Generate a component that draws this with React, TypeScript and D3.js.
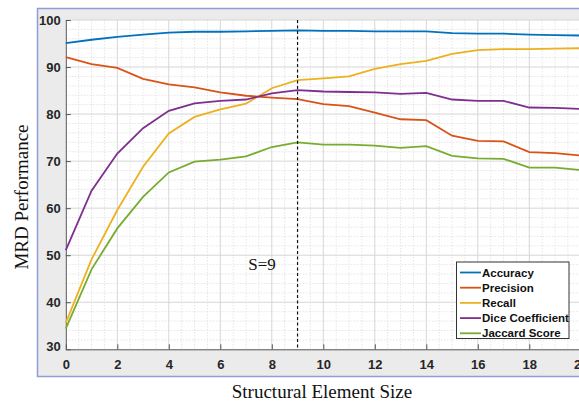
import * as d3 from 'd3';
import { useRef, useEffect } from 'react';

// structural element sizes
const sizes = d3.range(0, 21);

const accuracy = [95.1, 95.8, 96.4, 96.9, 97.3, 97.5, 97.5, 97.6, 97.7, 97.8, 97.7, 97.7, 97.6, 97.6, 97.6, 97.2, 97.1, 97.1, 96.9, 96.8, 96.7];
const precision = [92.1, 90.6, 89.8, 87.5, 86.3, 85.7, 84.6, 83.9, 83.5, 83.2, 82.1, 81.7, 80.3, 78.9, 78.7, 75.4, 74.3, 74.2, 71.9, 71.7, 71.2];
const recall = [35.6, 49.1, 59.6, 68.8, 75.9, 79.4, 81.0, 82.2, 85.5, 87.2, 87.6, 88.0, 89.6, 90.6, 91.3, 92.8, 93.6, 93.8, 93.8, 93.9, 94.0];
const dice = [51.1, 63.7, 71.6, 77.0, 80.7, 82.3, 82.8, 83.1, 84.4, 85.1, 84.8, 84.7, 84.6, 84.3, 84.5, 83.1, 82.8, 82.8, 81.4, 81.3, 81.1];
const jaccard = [34.4, 47.0, 55.7, 62.4, 67.6, 69.9, 70.3, 71.0, 73.0, 74.0, 73.5, 73.5, 73.3, 72.8, 73.2, 71.1, 70.6, 70.5, 68.6, 68.6, 68.1];

const seriesNames = ['Accuracy', 'Precision', 'Recall', 'Dice Coefficient', 'Jaccard Score'];
const seriesValues = [accuracy, precision, recall, dice, jaccard];
const colors = ['#0072BD', '#D95319', '#EDB120', '#7E2F8E', '#77AC30'];

const xTicks = [0, 2, 4, 6, 8, 10, 12, 14, 16, 18, 20];
const yTicks = [30, 40, 50, 60, 70, 80, 90, 100];
const chosenSize = 9;

function App() {
  const svgRef = useRef(null);
  const width = 579;
  const height = 402;
  const margin = { top: 20, left: 65.8, bottom: 349.3, right: 580.8 };

  useEffect(() => {
    const svg = d3.select(svgRef.current);
    svg.selectAll('*').remove();

    const xScale = d3.scaleLinear().domain([0, 20]).range([margin.left, margin.right]);
    const yScale = d3.scaleLinear().domain([30, 100]).range([margin.bottom, margin.top]);

    // outer figure frame
    svg.append('rect')
      .attr('x', 37.5).attr('y', 8.5)
      .attr('width', 600).attr('height', 368)
      .attr('fill', '#ebebeb')
      .attr('stroke', '#8e9cd8')
      .attr('stroke-width', 1.5);

    // plot area
    svg.append('rect')
      .attr('x', margin.left).attr('y', margin.top)
      .attr('width', margin.right - margin.left)
      .attr('height', margin.bottom - margin.top)
      .attr('fill', 'white');

    // minor grid
    const grid = svg.append('g');
    grid.selectAll('.minorX')
      .data(d3.range(0.5, 20, 0.5).filter((d) => d % 2 !== 0))
      .join('line')
      .attr('x1', (d) => xScale(d)).attr('x2', (d) => xScale(d))
      .attr('y1', margin.top).attr('y2', margin.bottom)
      .attr('stroke', '#dedede').attr('stroke-width', 0.8)
      .attr('stroke-dasharray', '1.5,1.5');
    grid.selectAll('.minorY')
      .data(d3.range(32, 100, 2).filter((d) => d % 10 !== 0))
      .join('line')
      .attr('x1', margin.left).attr('x2', margin.right)
      .attr('y1', (d) => yScale(d)).attr('y2', (d) => yScale(d))
      .attr('stroke', '#dedede').attr('stroke-width', 0.8)
      .attr('stroke-dasharray', '1.5,1.5');

    // major grid
    grid.selectAll('.majorX')
      .data(xTicks.slice(1))
      .join('line')
      .attr('x1', (d) => xScale(d)).attr('x2', (d) => xScale(d))
      .attr('y1', margin.top).attr('y2', margin.bottom)
      .attr('stroke', '#d6d6d6').attr('stroke-width', 1);
    grid.selectAll('.majorY')
      .data(yTicks.slice(1))
      .join('line')
      .attr('x1', margin.left).attr('x2', margin.right)
      .attr('y1', (d) => yScale(d)).attr('y2', (d) => yScale(d))
      .attr('stroke', '#d6d6d6').attr('stroke-width', 1);

    // axes (ticks inside)
    const xAxis = d3.axisBottom(xScale).tickValues(xTicks).tickSize(-5).tickPadding(8).tickSizeOuter(0);
    const yAxis = d3.axisLeft(yScale).tickValues(yTicks).tickSize(-5).tickPadding(5).tickSizeOuter(0);

    const gx = svg.append('g')
      .attr('transform', `translate(0, ${margin.bottom})`)
      .call(xAxis);
    const gy = svg.append('g')
      .attr('transform', `translate(${margin.left}, 0)`)
      .call(yAxis);
    [gx, gy].forEach((g) => {
      g.select('.domain').attr('stroke', '#555').attr('stroke-width', 1);
      g.selectAll('.tick line').attr('stroke', '#555');
      g.selectAll('.tick text')
        .attr('fill', '#262626')
        .attr('font-family', 'Liberation Sans, Arial, sans-serif')
        .attr('font-weight', 'bold')
        .attr('font-size', '13px');
    });
    gx.selectAll('.tick text').attr('dy', '0.9em');
    gy.selectAll('.tick text').attr('dy', '0.35em');
    gy.select('.tick text').attr('dy', '0.1em');

    // series lines
    const line = d3.line()
      .x((d, i) => xScale(sizes[i]))
      .y((d) => yScale(d));
    svg.append('g')
      .selectAll('path')
      .data(seriesValues)
      .join('path')
      .attr('d', (d) => line(d))
      .attr('fill', 'none')
      .attr('stroke', (d, i) => colors[i])
      .attr('stroke-width', 1.8);

    // chosen size marker
    svg.append('line')
      .attr('x1', xScale(chosenSize)).attr('x2', xScale(chosenSize))
      .attr('y1', margin.top).attr('y2', margin.bottom)
      .attr('stroke', '#111')
      .attr('stroke-width', 1.2)
      .attr('stroke-dasharray', '3,2.5');

    svg.append('text')
      .attr('x', 262).attr('y', 270)
      .attr('text-anchor', 'middle')
      .attr('font-family', 'Liberation Serif, Times New Roman, serif')
      .attr('font-size', '17px')
      .attr('fill', '#111')
      .text(`S=${chosenSize}`);

    // legend
    const legend = svg.append('g').attr('transform', 'translate(456.5, 262)');
    legend.append('rect')
      .attr('width', 112.5).attr('height', 76.5)
      .attr('fill', 'white')
      .attr('stroke', '#333')
      .attr('stroke-width', 1);
    const rows = legend.selectAll('.row')
      .data(seriesNames)
      .join('g')
      .attr('transform', (d, i) => `translate(0, ${10.5 + i * 15.2})`);
    rows.append('line')
      .attr('x1', 3.5).attr('x2', 24.5)
      .attr('stroke', (d, i) => colors[i])
      .attr('stroke-width', 1.8);
    rows.append('text')
      .attr('x', 25.5).attr('dy', '0.35em')
      .attr('font-family', 'Liberation Sans, Arial, sans-serif')
      .attr('font-weight', 'bold')
      .attr('font-size', '11.5px')
      .attr('fill', '#111')
      .text((d) => d);

    // axis titles
    svg.append('text')
      .attr('x', 322).attr('y', 398)
      .attr('text-anchor', 'middle')
      .attr('font-family', 'Liberation Serif, Times New Roman, serif')
      .attr('font-size', '19px')
      .attr('fill', '#111')
      .text('Structural Element Size');
    svg.append('text')
      .attr('transform', 'translate(28, 197) rotate(-90)')
      .attr('text-anchor', 'middle')
      .attr('font-family', 'Liberation Serif, Times New Roman, serif')
      .attr('font-size', '19px')
      .attr('fill', '#111')
      .text('MRD Performance');
  }, []);

  return (
    <svg
      ref={svgRef}
      width={width}
      height={height}
      style={{ position: 'absolute', left: 0, top: 0, background: 'white' }}
    />
  );
}

export default App;
